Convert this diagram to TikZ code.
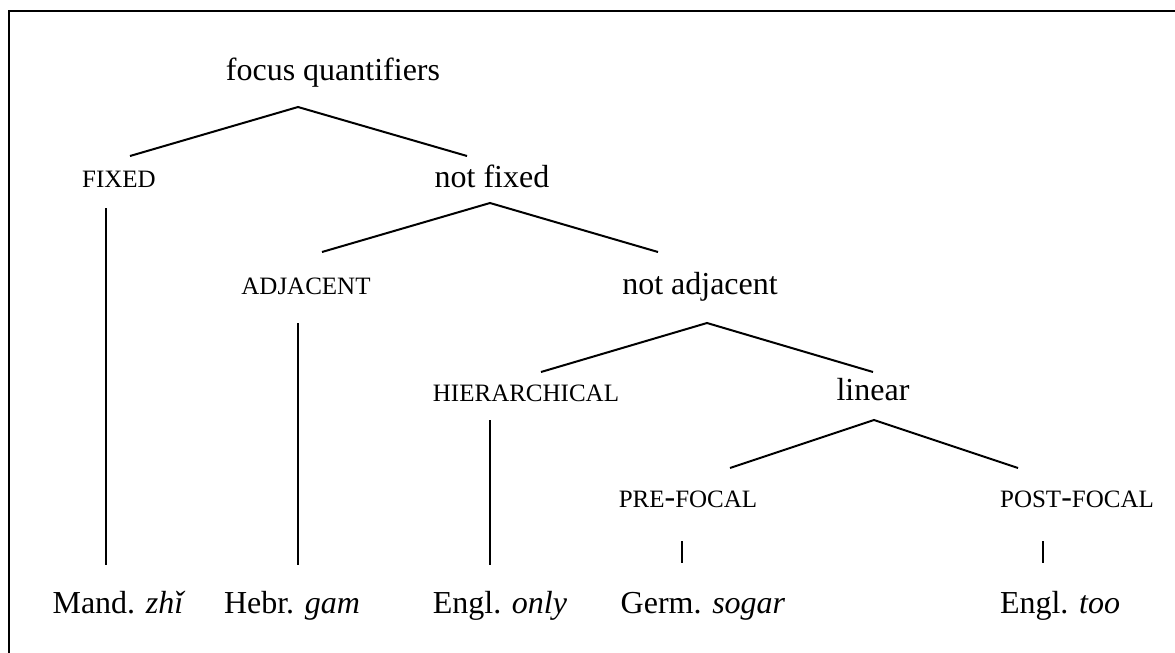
\documentclass[tikz,border=0pt]{standalone}
\usepackage{fontspec}
\setmainfont{Liberation Serif}
\newcommand{\bighyph}{{\fontsize{16}{19}\selectfont -}}
\begin{document}
\begin{tikzpicture}[x=0.5pt,y=-0.5pt,
  lbl/.style={anchor=base,inner sep=0pt,font=\fontsize{16}{19}\selectfont},
  sclbl/.style={anchor=base,inner sep=0pt,font=\fontsize{12.5}{15}\selectfont},
  branch/.style={line width=1pt},
  frame/.style={line width=1.1pt}]
\useasboundingbox (0,0) rectangle (1175,653);
\draw[frame] (1180,11) -- (9,11) -- (9,660);
% labels
\node[lbl] (fq) at (333,80) {focus quantifiers};
\node[sclbl] (fixed) at (119,187) {FIXED};
\node[lbl] (nfixed) at (492,187) {not fixed};
\node[sclbl] (adj) at (306,294) {ADJACENT};
\node[lbl] (nadj) at (700,294) {not adjacent};
\node[sclbl] (hier) at (526,401) {HIERARCHICAL};
\node[lbl] (linear) at (873,400) {linear};
\node[sclbl] (pre) at (688,507) {PRE\bighyph FOCAL};
\node[sclbl] (post) at (1077,507) {POST\bighyph FOCAL};
\node[lbl] (mand) at (119,613) {Mand. \textit{zhǐ}};
\node[lbl] (hebr) at (292,613) {Hebr. \textit{gam}};
\node[lbl] (engl) at (500,613) {Engl. \textit{only}};
\node[lbl] (germ) at (703,613) {Germ. \textit{sogar}};
\node[lbl] (too) at (1060,613) {Engl. \textit{too}};
% branch points
\coordinate (fqB) at (298,107);
\coordinate (fixedT) at (130,156);
\coordinate (nfixedT) at (467,156);
\coordinate (nfixedB) at (490,203);
\coordinate (adjT) at (322,252);
\coordinate (nadjT) at (658,252);
\coordinate (nadjB) at (707,323);
\coordinate (hierT) at (541,372);
\coordinate (linearT) at (873,372);
\coordinate (linearB) at (874,420);
\coordinate (preT) at (730,468);
\coordinate (postT) at (1018,468);
\coordinate (fixedB) at (106,208);
\coordinate (mandT) at (106,565);
\coordinate (adjB) at (298,323);
\coordinate (hebrT) at (298,565);
\coordinate (hierB) at (490,420);
\coordinate (englT) at (490,565);
\coordinate (preB) at (682,541);
\coordinate (germT) at (682,563);
\coordinate (postB) at (1043,541);
\coordinate (tooT) at (1043,563);
% connectors
\draw[branch] (fixedT) -- (fqB) -- (nfixedT);
\draw[branch] (adjT) -- (nfixedB) -- (nadjT);
\draw[branch] (hierT) -- (nadjB) -- (linearT);
\draw[branch] (preT) -- (linearB) -- (postT);
\draw[branch] (fixedB) -- (mandT);
\draw[branch] (adjB) -- (hebrT);
\draw[branch] (hierB) -- (englT);
\draw[branch] (preB) -- (germT);
\draw[branch] (postB) -- (tooT);
\end{tikzpicture}
\end{document}
